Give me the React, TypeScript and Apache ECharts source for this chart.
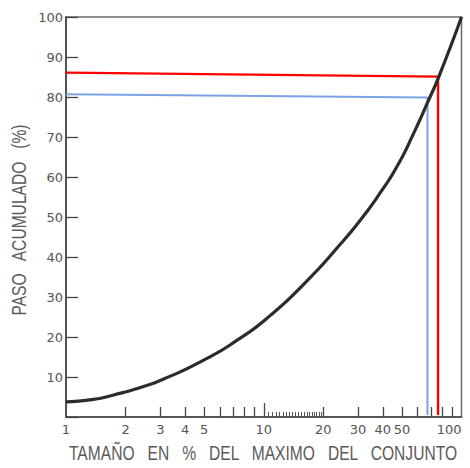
import React, { useEffect, useRef } from "react";
import * as echarts from "echarts";

// Curve: cumulative passing (%) vs size (% of maximum), log x axis
const sizePct = [1, 1.38, 1.74, 2.38, 3.12, 4.97, 7.34, 10.8, 16.0, 24.5, 32.1, 39.0, 47.4, 57.5, 67.3, 77.1, 100];
const passPct = [3.8, 4.4, 5.5, 7.4, 9.5, 14.2, 19.2, 25.4, 33.3, 43.3, 50.4, 56.2, 62.8, 71.1, 78.6, 85.3, 100];

// Reading lines (red and blue)
const redX = [1, 76.1, 76.1];
const redY = [86.1, 85.1, 0.5];
const blueX = [1, 67.3, 67.3];
const blueY = [80.7, 79.9, 0.5];

// Axis ticks / labels
const xLabelValues = [1, 2, 3, 4, 5, 10, 20, 30, 40, 50, 100];
const xTickValues = [2, 3, 4, 5, 6, 7, 8, 9, 20, 30, 40, 50, 60, 70, 80, 90];
const xMajorTick = [10];
const xFineTicks = [10.5, 11, 11.5, 12, 12.5, 13, 13.5, 14, 14.5, 15, 15.5, 16, 16.5, 17, 17.5, 18, 18.5, 19, 19.5];

const xTitle = "TAMAÑO   EN   %   DEL   MAXIMO   DEL   CONJUNTO";
const yTitle = "PASO   ACUMULADO   (%)";

const zip = (a: number[], b: number[]) => a.map((v, i) => [v, b[i]]);

export default function App() {
  const ref = useRef<HTMLDivElement>(null);
  useEffect(() => {
    if (!ref.current) return;
    const chart = echarts.init(ref.current, null, { renderer: "svg" });
    const labelFont = "'DejaVu Sans', 'Liberation Sans', sans-serif";
    const baseX = {
      type: "log" as const,
      logBase: 10,
      min: 1,
      max: 100,
      position: "bottom" as const,
      splitLine: { show: false },
      minorTick: { show: false },
    };
    chart.setOption({
      animation: false,
      backgroundColor: "#ffffff",
      grid: {
        left: 66,
        right: 8.5,
        top: 17,
        bottom: 51,
        containLabel: false,
        outerBoundsMode: "none",
        show: true,
        borderColor: "#6a6a6a",
        borderWidth: 1.5,
        backgroundColor: "transparent",
      },
      xAxis: [
        {
          ...baseX,
          axisLine: { show: true, lineStyle: { color: "#444", width: 1.6 } },
          axisTick: {
            show: true,
            inside: true,
            length: 10,
            customValues: xTickValues,
            lineStyle: { color: "#444", width: 1.3 },
          },
          axisLabel: {
            show: true,
            customValues: xLabelValues,
            margin: 6,
            color: "#555",
            fontSize: 13,
            fontFamily: labelFont,
            alignMaxLabel: "right",
          },
        },
        {
          ...baseX,
          axisLine: { show: false },
          axisLabel: { show: false },
          axisTick: {
            show: true,
            inside: true,
            length: 14,
            customValues: xMajorTick,
            lineStyle: { color: "#444", width: 1.3 },
          },
        },
        {
          ...baseX,
          axisLine: { show: false },
          axisLabel: { show: false },
          axisTick: {
            show: true,
            inside: true,
            length: 5,
            customValues: xFineTicks,
            lineStyle: { color: "#555", width: 1 },
          },
        },
      ],
      yAxis: {
        type: "value",
        min: 0,
        max: 100,
        interval: 10,
        splitLine: { show: false },
        axisLine: { show: true, lineStyle: { color: "#444", width: 1.6 } },
        axisTick: { show: true, inside: true, length: 12, lineStyle: { color: "#444", width: 1.3 } },
        axisLabel: {
          margin: 3,
          color: "#555",
          fontSize: 13,
          fontFamily: labelFont,
          formatter: (v: number) => (v === 0 ? "" : String(v)),
        },
      },
      series: [
        {
          type: "line",
          data: zip(sizePct, passPct),
          smooth: 0.6,
          showSymbol: false,
          lineStyle: { color: "#2b2b2b", width: 3.2 },
          z: 3,
        },
        {
          type: "line",
          data: zip(blueX, blueY),
          showSymbol: false,
          lineStyle: { color: "#7ba3e3", width: 2 },
          z: 2,
        },
        {
          type: "line",
          data: zip(redX, redY),
          showSymbol: false,
          lineStyle: { color: "#ff0000", width: 2.4 },
          z: 2,
        },
      ],
      graphic: [
        {
          type: "text",
          x: 263,
          y: 453,
          scaleX: 0.78,
          style: {
            text: xTitle,
            fill: "#5a5a5a",
            fontSize: 20,
            fontFamily: "'Liberation Sans', Arial, sans-serif",
            textAlign: "center",
            textVerticalAlign: "middle",
          },
        },
        {
          type: "text",
          x: 19,
          y: 220,
          rotation: Math.PI / 2,
          scaleX: 0.78,
          style: {
            text: yTitle,
            fill: "#5a5a5a",
            fontSize: 20,
            fontFamily: "'Liberation Sans', Arial, sans-serif",
            textAlign: "center",
            textVerticalAlign: "middle",
          },
        },
      ],
    });
    return () => chart.dispose();
  }, []);
  return (
    <div
      ref={ref}
      style={{ position: "fixed", left: 0, top: 0, width: 470, height: 468, background: "#fff" }}
    />
  );
}
